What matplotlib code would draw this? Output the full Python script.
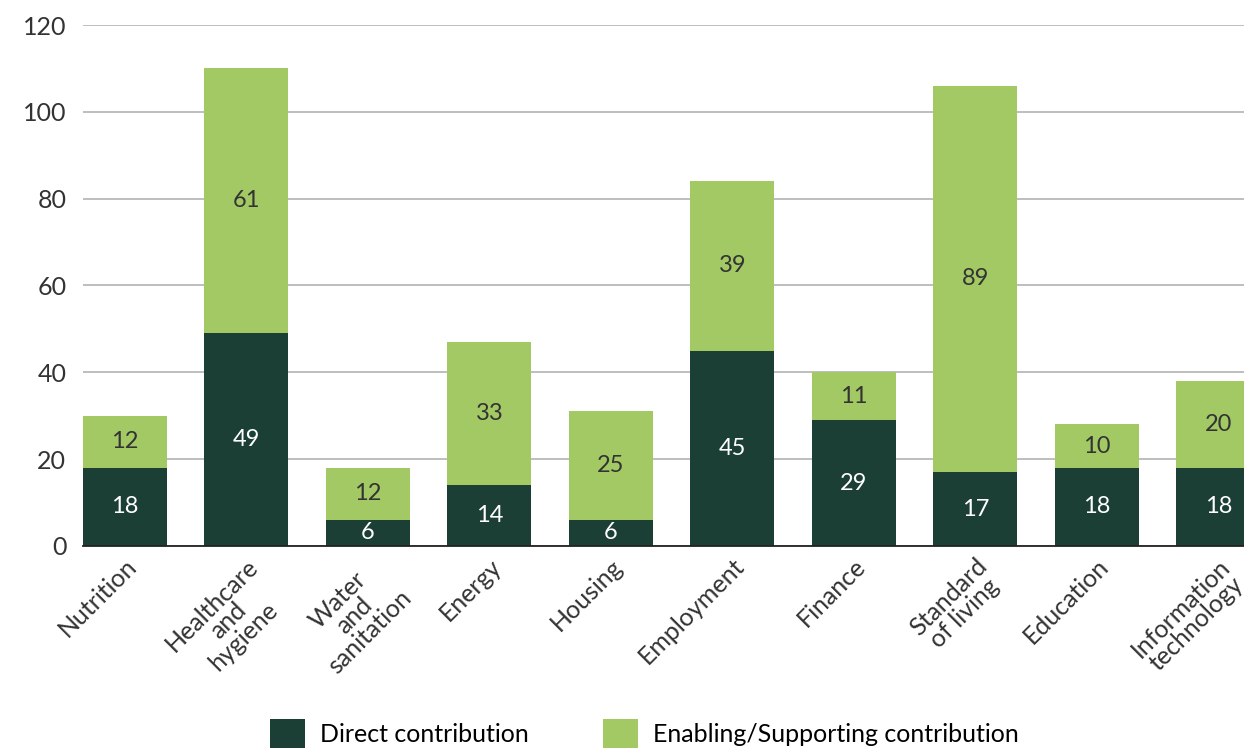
import numpy as np
import matplotlib.pyplot as plt

plt.rcParams['font.family'] = ['Lato', 'DejaVu Sans']

categories = ['Nutrition', 'Healthcare\nand\nhygiene', 'Water\nand\nsanitation', 'Energy',
              'Housing', 'Employment', 'Finance', 'Standard\nof living', 'Education',
              'Information\ntechnology']
direct = [18, 49, 6, 14, 6, 45, 29, 17, 18, 18]
enabling = [12, 61, 12, 33, 25, 39, 11, 89, 10, 20]

dark = '#1b3f35'
light = '#a3c964'

fig = plt.figure(figsize=(12.44, 7.51), dpi=100)
ax = fig.add_axes([0.0667, 0.273, 0.9767, 0.6937])

x = np.arange(len(categories))
w = 0.69
b1 = ax.bar(x, direct, w, color=dark, label='Direct contribution', zorder=3)
b2 = ax.bar(x, enabling, w, bottom=direct, color=light,
            label='Enabling/Supporting contribution', zorder=3)

ax.bar_label(b1, labels=[str(v) for v in direct], label_type='center',
             color='white', fontsize=17)
ax.bar_label(b2, labels=[str(v) for v in enabling], label_type='center',
             color='#333333', fontsize=17)

ax.set_xlim(-0.345, 9.655)
ax.set_ylim(0, 120)
ax.set_yticks(range(0, 121, 20))
ax.yaxis.grid(True, color='#b3b3b3', linewidth=1.2, zorder=0)
ax.tick_params(axis='y', length=0, labelsize=18, labelcolor='#333333', pad=12)
ax.tick_params(axis='x', length=0, labelsize=18, labelcolor='#333333', pad=6)
for s in ['top', 'right', 'left']:
    ax.spines[s].set_visible(False)
ax.spines['bottom'].set_color('#222222')
ax.spines['bottom'].set_linewidth(1.3)
ax.spines['bottom'].set_zorder(4)

ax.set_xticks(x)
ax.set_xticklabels(categories, rotation=45, ha='right', rotation_mode='anchor',
                   multialignment='center', linespacing=0.95)

fig.legend(handles=[b1, b2], loc='center', bbox_to_anchor=(0.518, 0.023),
           ncol=2, frameon=False, fontsize=18, handlelength=1.4, handleheight=1.4,
           columnspacing=3.0, handletextpad=0.6, borderpad=0)

fig.savefig('out.png', dpi=100)
